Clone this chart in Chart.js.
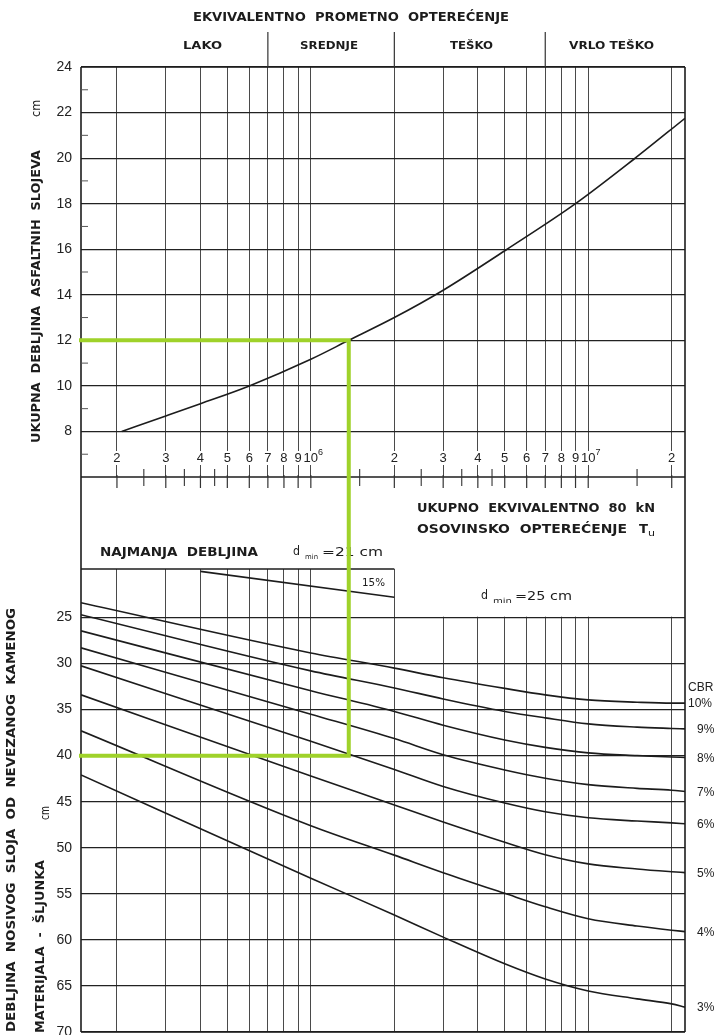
<!DOCTYPE html>
<html>
<head>
<meta charset="utf-8">
<script src="https://cdn.jsdelivr.net/npm/chart.js@4/dist/chart.umd.min.js"></script>
<style>
html,body{margin:0;padding:0;background:#fff;}
#wrap{position:relative;width:718px;height:1035px;overflow:hidden;background:#fff;}
#wrap canvas{position:absolute;left:0;top:0;}
</style>
</head>
<body>
<div id="wrap">
<canvas id="cLow" width="718" height="1035"></canvas>
<canvas id="cTop" width="718" height="1035"></canvas>
</div>
<script>
// ---------- DATA ----------
const xMin = 1.484e5, xMax = 2.233e7;
const xGridValues = [2e5,3e5,4e5,5e5,6e5,7e5,8e5,9e5,1e6,2e6,3e6,4e6,5e6,6e6,7e6,8e6,9e6,1e7,2e7];
const xTickLabels = ['2','3','4','5','6','7','8','9','10|6','2','3','4','5','6','7','8','9','10|7','2'];
const xMinorTicks = [2.5e5,3.5e5,4.5e5,1.5e6,2.5e6,3.5e6,4.5e6,1.5e7];
const loadClassBounds = [7e5, 2e6, 7e6];
const loadClassNames = ['LAKO','SREDNJE','TEŠKO','VRLO TEŠKO'];

const asphaltTicks = [8,10,12,14,16,18,20,22,24];
const asphaltMinorTicks = [7,9,11,13,15,17,19,21,23];
const asphaltN  = [2.08e5,3e5,4e5,6e5,1e6,1.37e6,2e6,3e6,5.1e6,9e6,1.46e7,2.233e7];
const asphaltCm = [8.0,8.68,9.22,10.0,11.17,12.0,13.0,14.2,16.0,18.0,19.95,21.75];

const baseTicks = [25,30,35,40,45,50,55,60,65,70];
const cbrN  = [1.484e5,1e6,2e6,3e6,5e6,7e6,1e7,1.5e7,2e7,2.233e7];
const cbr10 = [23.4,28.85,30.5,31.55,32.7,33.4,33.95,34.2,34.3,34.3];
const cbr9  = [24.7,30.8,32.65,33.85,35.2,35.9,36.55,36.9,37.05,37.1];
const cbr8  = [26.45,32.95,35.2,36.7,38.3,39.1,39.7,40.0,40.15,40.2];
const cbr7  = [28.3,35.5,38.15,39.9,41.55,42.45,43.15,43.55,43.75,43.9];
const cbr6  = [30.25,38.45,41.5,43.35,45.15,46.1,46.75,47.1,47.3,47.4];
const cbr5  = [33.4,42.2,45.35,47.2,49.4,50.75,51.75,52.3,52.6,52.7];
const cbr4  = [37.3,47.6,50.8,52.7,54.95,56.4,57.7,58.5,58.95,59.1];
const cbr3  = [42.1,53.3,57.3,59.7,62.6,64.25,65.55,66.4,66.95,67.3];
const cbrSeries = [cbr10,cbr9,cbr8,cbr7,cbr6,cbr5,cbr4,cbr3];
const cbrLabels = ['10%','9%','8%','7%','6%','5%','4%','3%'];

const cbr15N = [4e5, 2e6];
const cbr15  = [20.0, 22.8];

const readN = 1.37e6, readAsphalt = 12, readBase = 40;

// ---------- HELPERS ----------
const INK = '#1c1c1c';
const GREEN = '#9fd22a';
const TXT = '"DejaVu Sans", "Liberation Sans", sans-serif';
const NUM = '"Liberation Sans", "DejaVu Sans", sans-serif';

function fitText(ctx, text, x0, x1, cy, font) {
  ctx.save();
  ctx.font = font; ctx.fillStyle = INK;
  const w = ctx.measureText(text).width;
  ctx.translate((x0 + x1) / 2, cy);
  ctx.scale((x1 - x0) / w, 1);
  ctx.textAlign = 'center'; ctx.textBaseline = 'middle';
  ctx.fillText(text, 0, 0);
  ctx.restore();
}
function fitVText(ctx, text, cx, yBottom, yTop, font) {
  ctx.save();
  ctx.font = font; ctx.fillStyle = INK;
  const w = ctx.measureText(text).width;
  ctx.translate(cx, (yBottom + yTop) / 2);
  ctx.rotate(-Math.PI / 2);
  ctx.scale((yBottom - yTop) / w, 1);
  ctx.textAlign = 'center'; ctx.textBaseline = 'middle';
  ctx.fillText(text, 0, 0);
  ctx.restore();
}
function line(ctx, x0, y0, x1, y1, w, c) {
  ctx.save(); ctx.strokeStyle = c || INK; ctx.lineWidth = w || 1;
  ctx.beginPath(); ctx.moveTo(x0, y0); ctx.lineTo(x1, y1); ctx.stroke(); ctx.restore();
}
const pts = (xs, ys) => xs.map((x, i) => ({x: x, y: ys[i]}));

const xAxisCommon = {
  type: 'logarithmic', min: xMin, max: xMax,
  afterBuildTicks: a => { a.ticks = xGridValues.map(v => ({value: v})); },
  ticks: {display: false},
  grid: {color: '#4a4a4a', lineWidth: 1, drawTicks: false},
  border: {display: false},
  afterFit: s => { s.height = 0; s.paddingLeft = 0; s.paddingRight = 0; }
};
function yAxis(min, max, ticks, reverse) {
  return {
    type: 'linear', min: min, max: max, reverse: !!reverse,
    afterBuildTicks: a => { a.ticks = ticks.map(v => ({value: v})); },
    ticks: {padding: 9, color: '#222', font: {family: NUM, size: 14}},
    grid: {color: '#222', lineWidth: 1.2, drawTicks: false},
    border: {display: false},
    afterFit: s => { s.width = 81; s.paddingTop = 0; s.paddingBottom = 0; }
  };
}

// ---------- LOWER CHART (base layer thickness) ----------
const lowPlugin = {
  id: 'lowDecor',
  beforeDatasetsDraw(chart) {
    const ctx = chart.ctx, a = chart.chartArea, x = chart.scales.x, y = chart.scales.y;
    const xb = x.getPixelForValue(2e6);
    ctx.save(); ctx.fillStyle = '#fff';
    ctx.fillRect(xb + 0.8, a.top - 2, a.right - xb + 2, y.getPixelForValue(25) - a.top + 1.2);
    ctx.restore();
  }
};
const lowDatasets = cbrSeries.map((s, i) => ({
  label: 'CBR ' + cbrLabels[i], data: pts(cbrN, s),
  borderColor: INK, borderWidth: 1.6, pointRadius: 0, cubicInterpolationMode: 'monotone', fill: false
}));
lowDatasets.push({label: 'CBR 15%', data: pts(cbr15N, cbr15), borderColor: INK, borderWidth: 1.6, pointRadius: 0, fill: false});

const lowChart = new Chart(document.getElementById('cLow'), {
  type: 'line',
  data: {datasets: lowDatasets},
  options: {
    responsive: false, animation: false, events: [],
    layout: {padding: {top: 569, left: 0, right: 33, bottom: 3}},
    plugins: {legend: {display: false}, tooltip: {enabled: false}},
    scales: {x: Object.assign({}, xAxisCommon), y: yAxis(19.74, 70, baseTicks, true)}
  },
  plugins: [lowPlugin]
});

// ---------- UPPER CHART (asphalt thickness) ----------
const topPlugin = {
  id: 'topDecor',
  afterDraw(chart) {
    const ctx = chart.ctx, a = chart.chartArea, x = chart.scales.x, y = chart.scales.y;
    const lx = lowChart.scales.x, ly = lowChart.scales.y, la = lowChart.chartArea;
    const L = a.left, R = a.right;

    // frame
    line(ctx, L, a.top, L, la.bottom, 1.6);
    line(ctx, R, a.top, R, la.bottom, 1.6);
    line(ctx, L, a.top, R, a.top, 1.6);
    line(ctx, L, a.bottom, R, a.bottom, 1.6);
    line(ctx, L, la.bottom, R, la.bottom, 1.6);
    line(ctx, L, la.top, lx.getPixelForValue(2e6), la.top, 1.5);

    // minor y ticks on top panel
    asphaltMinorTicks.forEach(v => line(ctx, L, y.getPixelForValue(v), L + 7, y.getPixelForValue(v), 1, '#555'));

    // bottom axis ticks
    xGridValues.forEach(v => { const px = x.getPixelForValue(v); line(ctx, px, a.bottom - 2, px, a.bottom + 11, 1.2, '#333'); });
    xMinorTicks.forEach(v => { const px = x.getPixelForValue(v); line(ctx, px, a.bottom - 8, px, a.bottom + 9, 1.1, '#333'); });

    // bottom axis labels inside plot
    const ly0 = a.bottom - 19;
    xGridValues.forEach((v, i) => {
      const px = x.getPixelForValue(v);
      const parts = xTickLabels[i].split('|');
      ctx.save();
      ctx.font = '13px ' + NUM;
      const w = ctx.measureText(parts[0]).width;
      ctx.fillStyle = '#fff';
      ctx.fillRect(px - w / 2 - 2, ly0 - 7, w + 4 + (parts[1] ? 7 : 0), 14);
      ctx.fillStyle = '#222'; ctx.textAlign = 'center'; ctx.textBaseline = 'middle';
      ctx.fillText(parts[0], px, ly0);
      if (parts[1]) {
        ctx.font = '9px ' + NUM; ctx.textAlign = 'left';
        ctx.fillText(parts[1], px + w / 2, ly0 - 5);
      }
      ctx.restore();
    });

    // header
    fitText(ctx, 'EKVIVALENTNO  PROMETNO  OPTEREĆENJE', 193, 509, 18, 'bold 12px ' + TXT);
    loadClassBounds.forEach(v => { const px = x.getPixelForValue(v); line(ctx, px, 32, px, a.top, 1.2, '#333'); });
    const classSpans = [[183, 222], [300, 358], [450, 493], [569, 654]];
    loadClassNames.forEach((n, i) => fitText(ctx, n, classSpans[i][0], classSpans[i][1], 46, 'bold 11px ' + TXT));

    // axis titles
    fitVText(ctx, 'UKUPNA  DEBLJINA  ASFALTNIH  SLOJEVA', 37, 443, 150, 'bold 13px ' + TXT);
    fitVText(ctx, 'cm', 37, 117, 100, '13px ' + TXT);
    fitVText(ctx, 'DEBLJINA  NOSIVOG  SLOJA  OD  NEVEZANOG  KAMENOG', 12, 1032, 608, 'bold 13px ' + TXT);
    fitVText(ctx, 'MATERIJALA  -  ŠLJUNKA', 41, 1033, 860, 'bold 13px ' + TXT);
    fitVText(ctx, 'cm', 46, 820, 806, '12px ' + TXT);

    // gap texts
    fitText(ctx, 'UKUPNO  EKVIVALENTNO  80  kN', 417, 655, 509, 'bold 12px ' + TXT);
    fitText(ctx, 'OSOVINSKO  OPTEREĆENJE', 417, 627, 530, 'bold 12px ' + TXT);
    fitText(ctx, 'T', 639, 648, 530, 'bold 12px ' + TXT);
    fitText(ctx, 'u', 648, 655, 534, '9px ' + TXT);

    // minimum thickness texts
    fitText(ctx, 'NAJMANJA  DEBLJINA', 100, 258, 553, 'bold 12px ' + TXT);
    fitText(ctx, 'd', 293, 300, 552, '13px ' + TXT);
    fitText(ctx, 'min', 305, 318, 557, '7px ' + TXT);
    fitText(ctx, '=21 cm', 322, 383, 553, '12px ' + TXT);
    fitText(ctx, '15%', 362, 385, 583, '11px ' + TXT);
    fitText(ctx, 'd', 481, 488, 596, '13px ' + TXT);
    fitText(ctx, 'min', 493, 512, 601, '7px ' + TXT);
    fitText(ctx, '=25 cm', 515, 572, 597, '12px ' + TXT);

    // CBR labels
    ctx.save();
    ctx.font = '12px ' + NUM; ctx.fillStyle = '#222'; ctx.textBaseline = 'middle'; ctx.textAlign = 'left';
    cbrSeries.forEach((s, i) => {
      const py = ly.getPixelForValue(s[s.length - 1]);
      ctx.fillText(cbrLabels[i], i === 0 ? R + 3 : R + 12, py + 1);
    });
    ctx.fillText('CBR', R + 3, ly.getPixelForValue(cbr10[cbr10.length - 1]) - 15);
    ctx.restore();

    // green reading path
    const gx = x.getPixelForValue(readN);
    const gy1 = y.getPixelForValue(readAsphalt);
    const gy2 = ly.getPixelForValue(readBase);
    ctx.save();
    ctx.strokeStyle = GREEN; ctx.lineWidth = 4; ctx.lineCap = 'butt'; ctx.lineJoin = 'miter';
    ctx.beginPath(); ctx.moveTo(L - 2, gy1); ctx.lineTo(gx, gy1); ctx.lineTo(gx, gy2); ctx.lineTo(L - 2, gy2); ctx.stroke();
    ctx.restore();
  }
};

const topChart = new Chart(document.getElementById('cTop'), {
  type: 'line',
  data: {datasets: [{label: 'Asfalt', data: pts(asphaltN, asphaltCm), borderColor: INK, borderWidth: 1.6, pointRadius: 0, cubicInterpolationMode: 'monotone', fill: false}]},
  options: {
    responsive: false, animation: false, events: [],
    layout: {padding: {top: 67, left: 0, right: 33, bottom: 558}},
    plugins: {legend: {display: false}, tooltip: {enabled: false}},
    scales: {x: Object.assign({}, xAxisCommon), y: yAxis(6, 24, asphaltTicks, false)}
  },
  plugins: [topPlugin]
});
</script>
</body>
</html>
